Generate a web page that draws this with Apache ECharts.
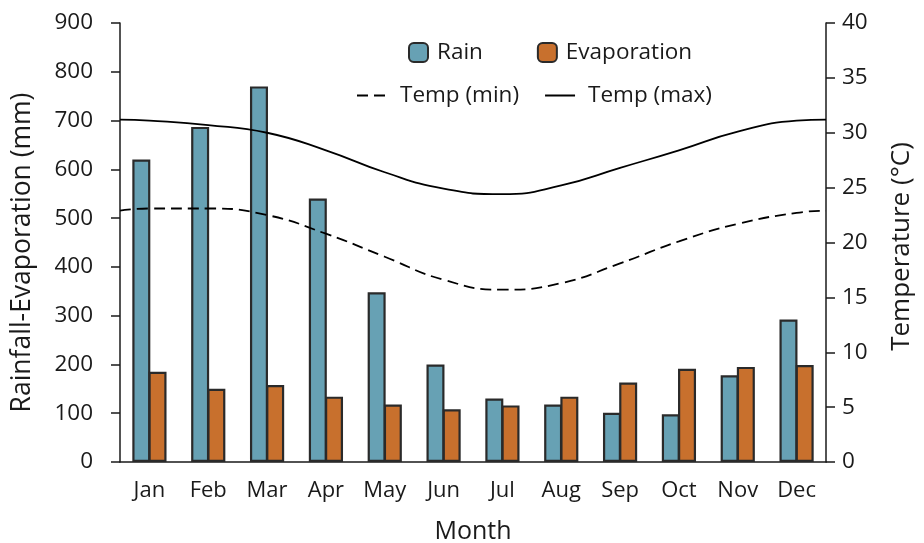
<!DOCTYPE html>
<html>
<head>
<meta charset="utf-8">
<script src="https://cdn.jsdelivr.net/npm/echarts@6/dist/echarts.min.js"></script>
<style>
html,body{margin:0;padding:0;background:#fff;}
#chart{width:924px;height:543px;}
</style>
</head>
<body>
<div id="chart"></div>
<script>
const months = ['Jan','Feb','Mar','Apr','May','Jun','Jul','Aug','Sep','Oct','Nov','Dec'];
const rain = [620, 687, 770, 540, 348, 200, 130, 118, 101, 98, 178, 292];
const evaporation = [185, 150, 158, 134, 118, 108, 116, 134, 163, 191, 195, 199];
// temperature curves, sampled at axis edges and month centres (x in months)
const tempX = [0, 0.5, 1.5, 2.5, 3.5, 4.5, 5.5, 6.5, 7.5, 8.5, 9.5, 10.5, 11.5, 12];
const tempMax = [31.2, 31.1, 30.7, 30.0, 28.4, 26.4, 24.9, 24.4, 25.2, 26.8, 28.4, 30.1, 31.1, 31.2];
const tempMin = [22.9, 23.1, 23.1, 22.5, 20.8, 18.7, 16.6, 15.7, 16.3, 18.1, 20.1, 21.7, 22.7, 22.9];
const leftTicks = [0, 900, 100];
const rightTicks = [0, 40, 5];

const FONT = 'Open Sans';
const ink = '#1a1a1a';
const pair = (xs, ys) => xs.map((x, i) => [x, ys[i]]);

const chart = echarts.init(document.getElementById('chart'), null, {renderer: 'canvas'});
chart.setOption({
  animation: false,
  textStyle: {fontFamily: FONT, color: ink},
  grid: {left: 120, right: 98, top: 23, bottom: 81, containLabel: false, outerBoundsMode: 'none'},
  legend: [
    {
      data: ['Rain', 'Evaporation'],
      left: 408, top: 41, padding: 0,
      itemWidth: 19, itemHeight: 19, itemGap: 54,
      textStyle: {fontFamily: FONT, fontSize: 22.5, color: ink, padding: [0, 0, 0, 4]}
    },
    {
      data: ['Temp (min)', 'Temp (max)'],
      left: 356, top: 84, padding: 0,
      itemWidth: 30, itemHeight: 14, itemGap: 25,
      itemStyle: {opacity: 0},
      textStyle: {fontFamily: FONT, fontSize: 22.5, color: ink, padding: [0, 0, 0, 8]}
    }
  ],
  xAxis: [
    {
      type: 'category', data: months,
      name: 'Month', nameLocation: 'middle', nameGap: 57,
      nameTextStyle: {fontFamily: FONT, fontSize: 25, color: ink},
      axisLine: {lineStyle: {color: ink, width: 1.5}},
      axisTick: {length: 9, lineStyle: {color: ink, width: 1.5}},
      axisLabel: {fontFamily: FONT, fontSize: 22, color: ink, margin: 18}
    },
    {type: 'value', min: 0, max: 12, show: false}
  ],
  yAxis: [
    {
      type: 'value', min: leftTicks[0], max: leftTicks[1], interval: leftTicks[2],
      name: 'Rainfall-Evaporation (mm)', nameLocation: 'middle', nameGap: 84,
      nameTextStyle: {fontFamily: FONT, fontSize: 26.5, color: ink, padding: [0, 20, 0, 0]},
      axisLine: {show: true, lineStyle: {color: ink, width: 1.5}},
      axisTick: {show: true, length: 9, lineStyle: {color: ink, width: 1.5}},
      axisLabel: {fontFamily: FONT, fontSize: 22.5, color: ink, margin: 27},
      splitLine: {show: false}
    },
    {
      type: 'value', min: rightTicks[0], max: rightTicks[1], interval: rightTicks[2],
      position: 'right',
      name: 'Temperature (°C)', nameLocation: 'middle', nameGap: 63,
      nameTextStyle: {fontFamily: FONT, fontSize: 26, color: ink, padding: [0, 8, 0, 0]},
      axisLine: {show: true, lineStyle: {color: ink, width: 1.5}},
      axisTick: {show: true, length: 9, lineStyle: {color: ink, width: 1.5}},
      axisLabel: {fontFamily: FONT, fontSize: 22.5, color: ink, margin: 16},
      splitLine: {show: false}
    }
  ],
  series: [
    {
      name: 'Rain', type: 'bar', data: rain, barWidth: 18, barGap: '-10%',
      itemStyle: {color: '#67a1b4', borderColor: '#2a2a2a', borderWidth: 2.2}
    },
    {
      name: 'Evaporation', type: 'bar', data: evaporation, barWidth: 18, barGap: '-10%',
      itemStyle: {color: '#c8702d', borderColor: '#2a2a2a', borderWidth: 2.2}
    },
    {
      name: 'Temp (min)', type: 'line', xAxisIndex: 1, yAxisIndex: 1,
      data: pair(tempX, tempMin), smooth: true, symbol: 'none',
      lineStyle: {color: '#000', width: 1.8, type: [11, 6]},
      itemStyle: {color: '#000'}
    },
    {
      name: 'Temp (max)', type: 'line', xAxisIndex: 1, yAxisIndex: 1,
      data: pair(tempX, tempMax), smooth: true, symbol: 'none',
      lineStyle: {color: '#000', width: 1.8},
      itemStyle: {color: '#000'}
    }
  ]
});
</script>
</body>
</html>
